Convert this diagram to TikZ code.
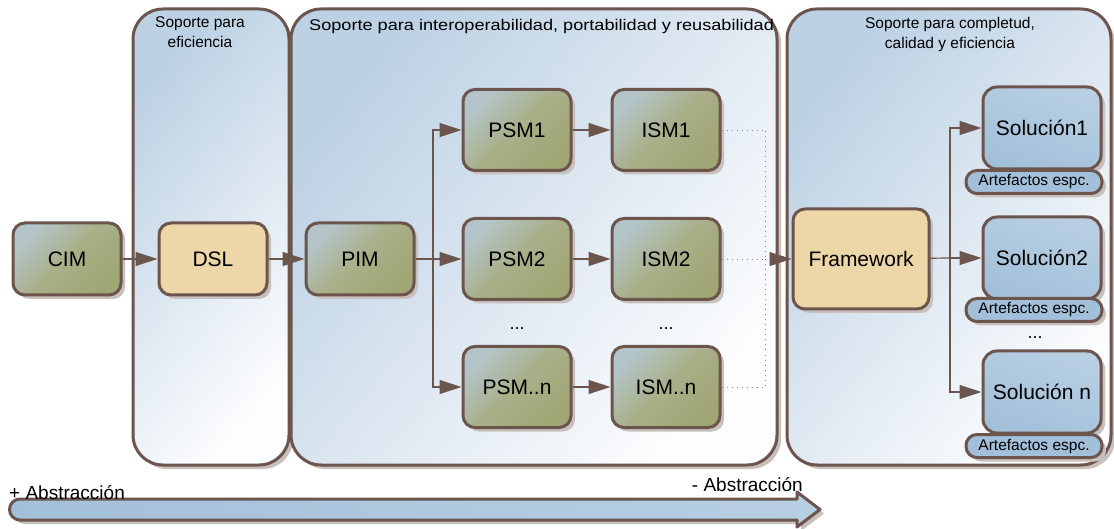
\documentclass[tikz,border=0pt]{standalone}
\usepackage{fontspec}
\setmainfont{Liberation Sans}
\usetikzlibrary{shadows,arrows.meta,calc}
\definecolor{brd}{HTML}{6B554D}
\definecolor{gtl}{HTML}{B4C5C9}
\definecolor{gmid}{HTML}{A9AF88}
\definecolor{gbr}{HTML}{A0A674}
\definecolor{peach}{HTML}{EDD6A7}
\definecolor{sbl}{HTML}{A3C0DA}
\definecolor{sbl2}{HTML}{B8CFE3}
\definecolor{ctl}{HTML}{BCD1E4}
\definecolor{cmid}{HTML}{DDE7F1}
\definecolor{cbr}{HTML}{FCFDFE}
\definecolor{shd}{HTML}{C8C0BC}
\definecolor{dotc}{HTML}{8A8A8A}
\tikzset{
  sh/.style={drop shadow={shadow xshift=4pt,shadow yshift=-4pt,fill=shd,opacity=1}},
  col/.style={draw=brd,line width=3pt,rounded corners=30pt,top color=ctl,bottom color=cbr,middle color=cmid,shading angle=50,sh},
  coltitle/.style={font=\fontsize{15.5}{20}\selectfont,align=center,inner sep=0pt},
  box/.style={draw=brd,line width=3pt,rounded corners=12pt,minimum width=108pt,minimum height=72pt,
     font=\fontsize{21}{24}\selectfont,inner sep=0pt,sh},
  gbox/.style={box,top color=gtl,bottom color=gbr,middle color=gmid,shading angle=45},
  gtall/.style={gbox,minimum height=81pt},
  pbox/.style={box,fill=peach},
  solbox/.style={box,minimum width=118pt,minimum height=82pt,rounded corners=14pt,top color=sbl,bottom color=sbl2,shading angle=160},
  pill/.style={draw=brd,line width=3pt,rounded corners=11pt,minimum width=136pt,minimum height=23pt,inner sep=0pt,
     font=\fontsize{15.5}{17}\selectfont,fill=sbl,sh},
  arr/.style={draw=brd,line width=1.2pt,-{Triangle[length=22pt,width=14pt]}},
  ln/.style={draw=brd,line width=1.2pt},
  dots/.style={draw=dotc,line width=0.9pt,dash pattern=on 1pt off 4pt},
  lbl/.style={font=\fontsize{18}{20}\selectfont,inner sep=0pt},
  ablbl/.style={font=\fontsize{19}{21}\selectfont,inner sep=0pt}
}
\begin{document}
\begin{tikzpicture}[x=1pt,y=-1pt]
\useasboundingbox (0,0) rectangle (1114,529);
% columns
\path[col] (133,9) rectangle (289,465);
\path[col] (291,9) rectangle (777,465);
\path[col] (787,9) rectangle (1111,465);
\node[coltitle] (t1) at (200,32) {Soporte para\\eficiencia};
\node[coltitle,anchor=west] (t2) at (309,26) {\scalebox{1.17}[1]{Soporte para interoperabilidad, portabilidad y reusabilidad}};
\node[coltitle] (t3) at (950,34) {Soporte para completud,\\calidad y eficiencia};
% nodes
\node[gbox] (cim) at (67,259) {CIM};
\node[pbox] (dsl) at (213,259) {DSL};
\node[gbox] (pim) at (360,259) {PIM};
\node[gtall] (psm1) at (517,130) {PSM1};
\node[gtall] (ism1) at (666,130) {ISM1};
\node[gtall] (psm2) at (517,259) {PSM2};
\node[gtall] (ism2) at (666,259) {ISM2};
\node[gtall] (psmn) at (517,387) {PSM..n};
\node[gtall] (ismn) at (666,387) {ISM..n};
\node[lbl] (d1) at (517,329) {...};
\node[lbl] (d2) at (666,329) {...};
\node[pbox,minimum width=136pt,minimum height=100pt] (fw) at (861,259) {Framework};
\node[solbox] (s1) at (1042,128) {Solución1};
\node[pill] (a1) at (1034,182) {Artefactos espc.};
\node[solbox] (s2) at (1042,258) {Solución2};
\node[pill] (a2) at (1034,310) {Artefactos espc.};
\node[lbl] (d3) at (1035,338) {...};
\node[solbox] (sn) at (1042,392) {Solución n};
\node[pill] (an) at (1034,446) {Artefactos espc.};
% connectors
\draw[arr] (cim) -- (dsl);
\draw[arr] (dsl) -- (pim);
\coordinate (b1) at (433,259);
\draw[ln] (pim) -- (b1);
\draw[arr] (b1) -- (psm2);
\draw[arr] (b1) |- (psm1);
\draw[arr] (b1) |- (psmn);
\draw[arr] (psm1) -- (ism1);
\draw[arr] (psm2) -- (ism2);
\draw[arr] (psmn) -- (ismn);
\coordinate (dj) at (765,259);
\draw[dots] (ism1) -| (dj);
\draw[dots] (ismn) -| (dj);
\draw[dots] (ism2) -- (dj);
\draw[dots,-{Triangle[length=22pt,width=14pt]},brd] (dj) -- (fw);
\coordinate (b2) at (950,258);
\draw[ln] (fw) -- (b2);
\draw[arr] (b2) -- (s2);
\draw[arr] (b2) |- (s1);
\draw[arr] (b2) |- (sn);
% abstraction arrow
\path[draw=brd,line width=3pt,line join=round,left color=sbl,right color=sbl2,sh]
  (797,499) -- (20,499) arc[start angle=90,end angle=270,radius=10.5pt] -- (797,520) -- (797,527) -- (820,509.5) -- (797,492) -- cycle;
\node[ablbl,anchor=base west] (ab1) at (9,499) {+ Abstracción};
\node[ablbl,anchor=base east] (ab2) at (803,491) {- Abstracción};
\end{tikzpicture}
\end{document}
